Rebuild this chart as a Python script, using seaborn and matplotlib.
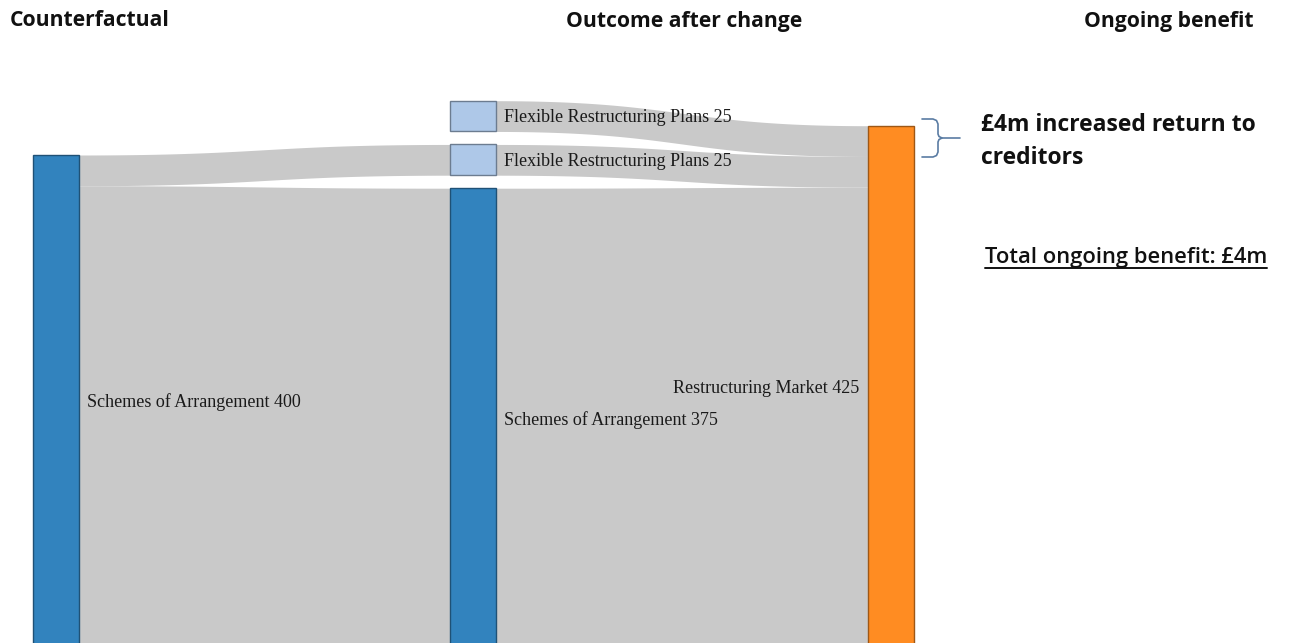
import numpy as np
import matplotlib
matplotlib.use("Agg")
import matplotlib.pyplot as plt
from matplotlib.colors import to_rgb
import seaborn as sns

# ---- data -------------------------------------------------------------
node_names = ["Schemes of Arrangement", "Flexible Restructuring Plans",
              "Flexible Restructuring Plans", "Schemes of Arrangement",
              "Restructuring Market"]
node_values = [400, 25, 25, 375, 425]
node_columns = [0, 1, 1, 1, 2]
node_kinds = ["existing", "new", "new", "existing", "total"]

link_sources = [0, 0, 1, 2, 3]
link_targets = [2, 3, 4, 4, 4]
link_values = [25, 375, 25, 25, 375]

column_titles = ["Counterfactual", "Outcome after change", "Ongoing benefit"]
benefit_note = ["£4m increased return to", "creditors"]
benefit_total = "Total ongoing benefit: £4m"

# ---- style / layout ---------------------------------------------------
W, H, DPI = 1294, 643, 100
PX_PER_UNIT = 1.23
COL_X0, COL_STEP, NODE_W = 33.0, 417.3, 46.0
COL_TOP_PX = [155.0, 100.7, 125.7]
NODE_GAP_PX = 13.0
LABEL_PAD = 8.0
LABEL_DROP_PX = 1.5

kind_colors = {"existing": "#3283be", "new": "#aec8e8", "total": "#ff8c22"}
LINK_COLOR = "#c9c9c9"
TEXT_COLOR = "#1a1a1a"
HEAD_FONT = "Open Sans"

sns.set_theme(style="white")
plt.rcParams["font.family"] = ["DejaVu Sans"]

fig = plt.figure(figsize=(W / DPI, H / DPI), dpi=DPI)
fig.patch.set_facecolor("white")

# main sankey axes: x in layout pixels, y in flow units (downwards)
ax = fig.add_axes([0, 0, 1, 1])
ax.set_xlim(0, W)
ax.set_ylim(H / PX_PER_UNIT, 0)
ax.axis("off")

# annotation axes in pixel units
ann = fig.add_axes([0, 0, 1, 1], zorder=5)
ann.set_xlim(0, W)
ann.set_ylim(H, 0)
ann.axis("off")
ann.patch.set_alpha(0)

# ---- node layout -----------------------------------------------------
n = len(node_values)
node_x0 = [COL_X0 + c * COL_STEP for c in node_columns]
node_y0 = [0.0] * n
col_cursor = {c: COL_TOP_PX[c] / PX_PER_UNIT for c in set(node_columns)}
for i in range(n):
    c = node_columns[i]
    node_y0[i] = col_cursor[c]
    col_cursor[c] += node_values[i] + NODE_GAP_PX / PX_PER_UNIT

# ---- links -----------------------------------------------------------
out_off = [0.0] * n
in_off = [0.0] * n
t = np.linspace(0, 1, 200)
for s, d, v in zip(link_sources, link_targets, link_values):
    x0 = node_x0[s] + NODE_W
    x1 = node_x0[d]
    xm = (x0 + x1) / 2
    xs = (1 - t) ** 3 * x0 + 3 * (1 - t) ** 2 * t * xm + 3 * (1 - t) * t ** 2 * xm + t ** 3 * x1
    ease = 3 * t ** 2 - 2 * t ** 3
    sy = node_y0[s] + out_off[s]
    dy = node_y0[d] + in_off[d]
    top = sy + (dy - sy) * ease
    ax.fill_between(xs, top, top + v, color=LINK_COLOR, linewidth=0, zorder=1)
    out_off[s] += v
    in_off[d] += v

# ---- nodes -----------------------------------------------------------
for i in range(n):
    fc = kind_colors[node_kinds[i]]
    ec = tuple(np.array(to_rgb(fc)) * 0.62)
    ax.bar(node_x0[i], node_values[i], bottom=node_y0[i], width=NODE_W,
           align="edge", color=fc, edgecolor=ec, linewidth=1.0, zorder=2)

for i in range(n):
    yc = node_y0[i] + node_values[i] / 2 + LABEL_DROP_PX / PX_PER_UNIT
    label = f"{node_names[i]} {node_values[i]}"
    if node_columns[i] == max(node_columns):
        ax.text(node_x0[i] - LABEL_PAD, yc, label, ha="right", va="center",
                family="Liberation Serif", fontsize=13, color=TEXT_COLOR, zorder=3)
    else:
        ax.text(node_x0[i] + NODE_W + LABEL_PAD, yc, label, ha="left", va="center",
                family="Liberation Serif", fontsize=13, color=TEXT_COLOR, zorder=3)

# ---- headers and notes ----------------------------------------------
header_x = [10, 566, 1084]
for x, title in zip(header_x, column_titles):
    ann.text(x, 21, title, ha="left", va="center", family=HEAD_FONT,
             fontweight="bold", fontsize=15.2, color="#111111")

ann.text(981, 125, benefit_note[0], ha="left", va="center", family=HEAD_FONT,
         fontweight="bold", fontsize=16.5, color="#111111")
ann.text(981, 158, benefit_note[1], ha="left", va="center", family=HEAD_FONT,
         fontweight="bold", fontsize=16.5, color="#111111")
tot = ann.text(985, 258, benefit_total, ha="left", va="center", family=HEAD_FONT,
               fontweight="semibold", fontsize=15.8, color="#111111")

# underline under the total
fig.canvas.draw()
bb = tot.get_window_extent(renderer=fig.canvas.get_renderer())
ann.plot([bb.x0, bb.x1], [268, 268], color="#111111", lw=1.4)

# bracket next to the new value
bx = [922, 933, 936.5, 938, 938, 939, 942, 939, 938, 938, 936.5, 933, 922]
by = [119, 119, 120.5, 124, 134, 136.5, 138, 139.5, 142, 152, 155.5, 157, 157]
ann.plot(bx, by, color="#5a7ca3", lw=1.2, solid_joinstyle="round")
ann.plot([942, 960], [138, 138], color="#5a7ca3", lw=1.2)

fig.savefig("out.png", dpi=DPI, facecolor="white")
